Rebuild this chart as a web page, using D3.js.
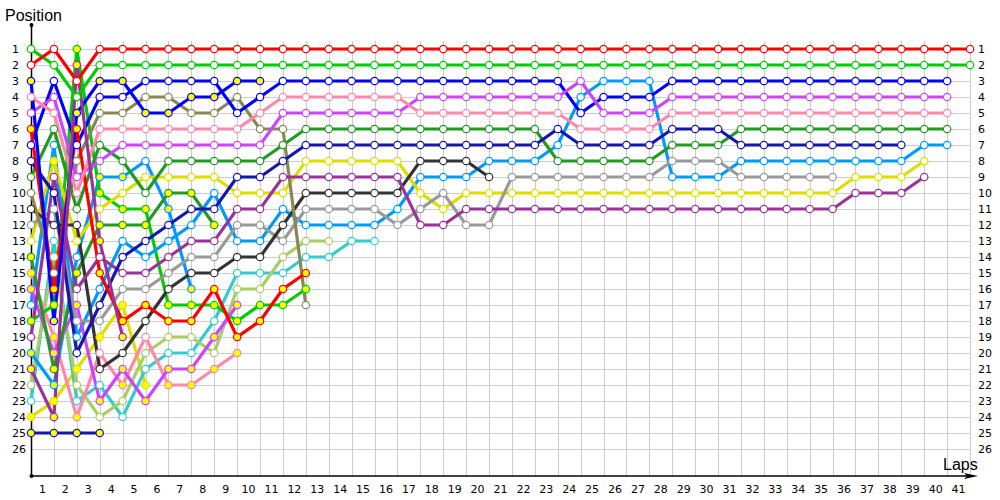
<!DOCTYPE html>
<html><head><meta charset="utf-8">
<script src="https://cdn.jsdelivr.net/npm/d3@7"></script>
<style>body{margin:0;background:#fff;overflow:hidden}</style>
</head><body><svg id="c" width="1000" height="500"></svg>
<script>
// ---- data: race position per lap (index = lap, 0 = grid) ----
const posRedLead   = [2,1,3,1,1,1,1,1,1,1, 1,1,1,1,1,1,1,1,1,1, 1,1,1,1,1,1,1,1,1,1, 1,1,1,1,1,1,1,1,1,1, 1,1];
const posGreenLead = [1,2,4,2,2,2,2,2,2,2, 2,2,2,2,2,2,2,2,2,2, 2,2,2,2,2,2,2,2,2,2, 2,2,2,2,2,2,2,2,2,2, 2,2];
const posBlue1     = [7,3,7,4,4,3,3,3,3,5, 4,3,3,3,3,3,3,3,3,3, 3,3,3,3,5,4,4,4,3,3, 3,3,3,3,3,3,3,3,3,3, 3];
const posViolet1   = [5,4,9,8,7,7,7,7,7,7, 7,5,5,5,5,5,5,4,4,4, 4,4,4,4,3,5,5,5,4,4, 4,4,4,4,4,4,4,4,4,4, 4];
const posPink1     = [4,5,10,6,6,6,6,6,6,6, 5,4,4,4,4,4,4,5,5,5, 5,5,5,5,6,6,6,6,5,5, 5,5,5,5,5,5,5,5,5,5, 5];
const posDkGreen1  = [9,6,11,7,8,10,8,8,8,8, 8,7,6,6,6,6,6,6,6,6, 6,6,6,8,8,8,8,8,7,7, 7,6,6,6,6,6,6,6,6,6, 6];
const posNavy1     = [8,10,20,17,14,13,12,11,11,9, 9,8,7,7,7,7,7,7,7,7, 7,7,7,6,7,7,7,7,6,6, 6,7,7,7,7,7,7,7,7];
const posYellow1   = [13,8,13,11,10,9,9,9,9,10, 10,10,8,8,8,8,8,10,11,10, 10,10,10,10,10,10,10,10,10,10, 10,10,10,10,10,10,9,9,9,8];
const posPurple1   = [19,9,16,14,15,15,14,13,13,11, 11,9,9,9,9,9,9,12,12,11, 11,11,11,11,11,11,11,11,11,11, 11,11,11,11,11,11,10,10,10,9];
const posBlack     = [11,12,12,21,20,18,16,15,15,14, 14,12,10,10,10,10,10,8,8,8, 9];
const posGray      = [12,11,18,18,16,16,15,14,14,12, 12,13,11,11,11,11,12,11,10,12, 12,9,9,9,9,9,9,9,8,8, 8,9,9,9,9,9];
const posLtBlue1   = [17,7,19,16,13,14,13,12,10,13, 13,11,12,12,12,12,11,9,9,9, 8,8,8,7,4,3,3,3,9,9, 9,8,8,8,8,8,8,8,8,7, 7];
const posOlive     = [10,15,8,5,5,4,4,5,5,4, 6,6,17];
const posLtGreen   = [22,14,22,24,23,20,19,19,20,16, 16,14,13,13];
const posCyan      = [23,13,23,22,24,21,20,20,18,15, 15,15,14,14,13,13];
const posRed2      = [6,16,6,15,18,17,18,18,16,19, 18,16,15];
const posGreen2    = [18,17,1,10,11,11,17,17,17,18, 17,17,16];
const posBlue2     = [3,18,5,3,3,5,5,4,4,3, 3];
const posDkGreen2  = [14,21,15,12,12,12,10,10,12];
const posNavy2     = [25,25,25,25];
const posYellow2   = [24,23,21,19,17,22];
const posPurple2   = [21,24,2,13,19];
const posViolet2   = [16,20,17,23,21,23,21,21,19,17];
const posPink2     = [15,19,24,20,22,19,22,22,21,20];
const posLtBlue2   = [20,22,14,9,9,8,11,16];

// laps on which the marker is shown highlighted (yellow)
const hlRed2     = [0,1,2,3,4,5,6,7,8,9,10,11,12];
const hlGreen2   = [0,1,2,3,4,5,6,7,8,9,10,11,12];
const hlBlue2    = [0,1,2,3,4,5,6,7,8,9,10];
const hlDkGreen2 = [0,1,2,3,4,5,6,7,8];
const hlNavy2    = [0,1,2,3];
const hlYellow2  = [0,1,2,3,4,5];
const hlPurple2  = [0,1,2,3,4];
const hlViolet2  = [0,1,2,3,4,5,6,7,8,9];
const hlPink2    = [0,1,2,4,6,7,8,9];
const hlLtBlue2  = [0,1,3,4,6,7];
const hlYellow1  = [1];

const posTicks = d3.range(1, 27);
const lapTicks = d3.range(1, 42);

// ---- styling ----
const series = [
  {pos: posNavy2,    hl: hlNavy2,    color: "#1515b0"},
  {pos: posYellow2,  hl: hlYellow2,  color: "#dddd00"},
  {pos: posCyan,     hl: [],         color: "#33cccc"},
  {pos: posLtGreen,  hl: [],         color: "#aacc66"},
  {pos: posPink2,    hl: hlPink2,    color: "#ff88aa"},
  {pos: posLtBlue2,  hl: hlLtBlue2,  color: "#0099ff"},
  {pos: posGreen2,   hl: hlGreen2,   color: "#00cc00"},
  {pos: posLtBlue1,  hl: [],         color: "#0099ff"},
  {pos: posViolet2,  hl: hlViolet2,  color: "#cc44ff"},
  {pos: posDkGreen2, hl: hlDkGreen2, color: "#229922"},
  {pos: posYellow1,  hl: hlYellow1,  color: "#dddd00"},
  {pos: posGray,     hl: [],         color: "#999999"},
  {pos: posBlack,    hl: [],         color: "#333333"},
  {pos: posOlive,    hl: [],         color: "#888855"},
  {pos: posPurple1,  hl: [],         color: "#993399"},
  {pos: posDkGreen1, hl: [],         color: "#229922"},
  {pos: posNavy1,    hl: [],         color: "#1515b0"},
  {pos: posBlue1,    hl: [],         color: "#0000ff"},
  {pos: posRed2,     hl: hlRed2,     color: "#ff0000"},
  {pos: posViolet1,  hl: [],         color: "#cc44ff"},
  {pos: posPink1,    hl: [],         color: "#ff88aa"},
  {pos: posBlue2,    hl: hlBlue2,    color: "#0000ff"},
  {pos: posPurple2,  hl: hlPurple2,  color: "#993399"},
  {pos: posGreenLead,hl: [],         color: "#00cc00"},
  {pos: posRedLead,  hl: [],         color: "#ff0000"}
];

const svg = d3.select("#c");
const x = d3.scaleLinear().domain([0, 41]).range([31, 970]);
const y = d3.scaleLinear().domain([1, 26]).range([49, 449]);
const font = "'DejaVu Sans', sans-serif";

// grid
const grid = svg.append("g").attr("stroke", "#cccccc").attr("stroke-width", 1);
grid.selectAll("line.v").data(lapTicks).join("line")
  .attr("x1", d => Math.round(x(d)) + 0.5).attr("x2", d => Math.round(x(d)) + 0.5)
  .attr("y1", 41).attr("y2", 476);
grid.selectAll("line.h").data(posTicks).join("line")
  .attr("x1", 31).attr("x2", x(41))
  .attr("y1", d => Math.round(y(d)) + 0.5).attr("y2", d => Math.round(y(d)) + 0.5);

// axes
svg.append("line").attr("x1", 31.5).attr("x2", 31.5).attr("y1", 25).attr("y2", 476)
  .attr("stroke", "#000").attr("stroke-width", 1.5);
svg.append("circle").attr("cx", 31.5).attr("cy", 25).attr("r", 2).attr("fill", "#000");
svg.append("line").attr("x1", 31).attr("x2", 972).attr("y1", 476).attr("y2", 476)
  .attr("stroke", "#000").attr("stroke-width", 1.5);
svg.append("circle").attr("cx", 31.5).attr("cy", 476).attr("r", 2).attr("fill", "#000");
svg.append("path").attr("d", "M964,473 L978,476 L964,479 L967,476 Z").attr("fill", "#000");

// tick labels
svg.selectAll("text.yl").data(posTicks).join("text")
  .attr("x", 12).attr("y", d => y(d) + 4)
  .attr("font-family", font).attr("font-size", 11).attr("fill", "#000").text(d => d);
svg.selectAll("text.yr").data(posTicks).join("text")
  .attr("x", 978).attr("y", d => y(d) + 4)
  .attr("font-family", font).attr("font-size", 11).attr("fill", "#000").text(d => d);
svg.selectAll("text.xl").data(lapTicks).join("text")
  .attr("x", d => x(d - 0.5)).attr("y", 493).attr("text-anchor", "middle")
  .attr("font-family", font).attr("font-size", 11).attr("fill", "#000").text(d => d);

svg.append("text").attr("x", 5).attr("y", 21).attr("font-family", "'Liberation Sans', Arial, sans-serif")
  .attr("font-size", 16).text("Position");
svg.append("text").attr("x", 943).attr("y", 470).attr("font-family", "'Liberation Sans', Arial, sans-serif")
  .attr("font-size", 16).text("Laps");

// lines
const line = d3.line().x((d, i) => x(i)).y(d => y(d));
svg.append("g").selectAll("path").data(series).join("path")
  .attr("d", s => line(s.pos)).attr("fill", "none")
  .attr("stroke", s => s.color).attr("stroke-width", 3.2)
  .attr("stroke-linejoin", "miter");

// markers
const mk = svg.append("g");
series.forEach(s => {
  mk.selectAll(null).data(s.pos.map((p, i) => ({p, i}))).join("circle")
    .attr("cx", d => x(d.i)).attr("cy", d => y(d.p)).attr("r", 3.7)
    .attr("fill", d => s.hl.includes(d.i) ? "#ffff00" : "#ffffff")
    .attr("stroke", s.color).attr("stroke-width", 1.2);
});
</script>
</body></html>
